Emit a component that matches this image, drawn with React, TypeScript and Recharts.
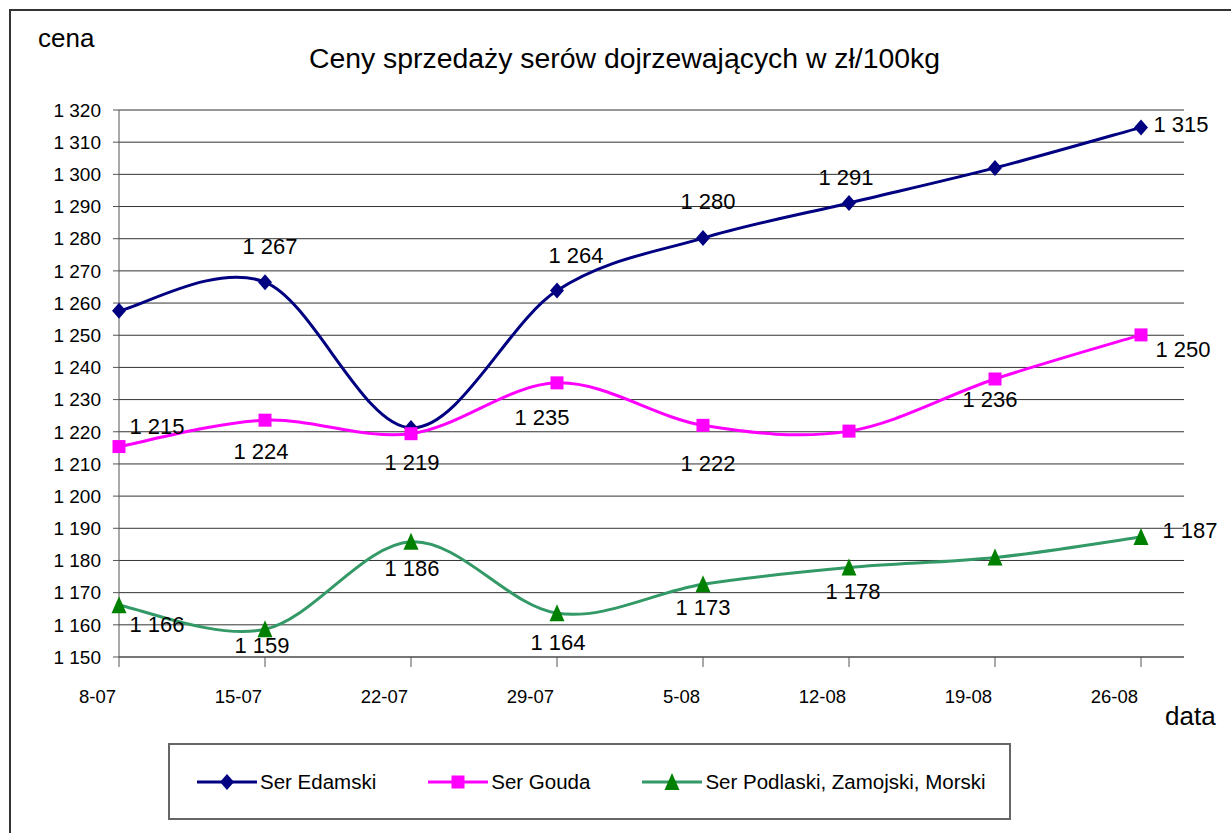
import React from 'react';
import { LineChart, Line, XAxis, YAxis, CartesianGrid, Legend, LabelList } from 'recharts';

const dates = ['8-07', '15-07', '22-07', '29-07', '5-08', '12-08', '19-08', '26-08'];
const edamski = [1257.6, 1266.5, 1221.2, 1263.9, 1280.2, 1291.1, 1302.0, 1314.6];
const gouda = [1215.4, 1223.6, 1219.4, 1235.2, 1222.0, 1220.2, 1236.4, 1250.1];
const podlaski = [1166.1, 1158.6, 1185.8, 1163.6, 1172.6, 1177.8, 1180.9, 1187.3];
const yTicks = [1150, 1160, 1170, 1180, 1190, 1200, 1210, 1220, 1230, 1240, 1250, 1260, 1270, 1280, 1290, 1300, 1310, 1320];

const SERIES_NAMES = ['Ser Edamski', 'Ser Gouda', 'Ser Podlaski, Zamojski, Morski'];
const TITLE = 'Ceny sprzedaży serów dojrzewających w zł/100kg';

// label placement (offset of label centre from the point), null = no label
const EDAM_LBL: (number[] | null)[] = [null, [5, -36], null, [19, -35], [5, -37], [-3, -25], null, [40, -3]];
const GOUDA_LBL: (number[] | null)[] = [[38, -20], [-4, 31], [1, 29], [-15, 35], [5, 38], null, [-5, 21], [42, 15]];
const POD_LBL: (number[] | null)[] = [[38, 19], [-3, 16], [1, 27], [1, 29], [0, 23], [4, 24], null, [49, -6]];

const data = dates.map((d, i) => ({ date: d, edamski: edamski[i], gouda: gouda[i], podlaski: podlaski[i] }));

const FONT = '"Liberation Sans", Arial, sans-serif';
const NAVY = '#000080';
const MAGENTA = '#FF00FF';
const GREEN_LINE = '#339966';
const GREEN = '#008000';

const fmt = (v: number) => String(Math.round(v)).replace(/\B(?=(\d{3})+(?!\d))/g, ' ');

// Excel-like smoothing (Catmull-Rom as cubic Bezier)
const excelSmooth: any = (context: any) => {
  let pts: number[][] = [];
  return {
    areaStart() {},
    areaEnd() {},
    lineStart() { pts = []; },
    lineEnd() {
      const n = pts.length;
      if (!n) return;
      context.moveTo(pts[0][0], pts[0][1]);
      for (let i = 0; i < n - 1; i++) {
        const p0 = pts[Math.max(i - 1, 0)];
        const p1 = pts[i];
        const p2 = pts[i + 1];
        const p3 = pts[Math.min(i + 2, n - 1)];
        context.bezierCurveTo(
          p1[0] + (p2[0] - p0[0]) / 6, p1[1] + (p2[1] - p0[1]) / 6,
          p2[0] - (p3[0] - p1[0]) / 6, p2[1] - (p3[1] - p1[1]) / 6,
          p2[0], p2[1]
        );
      }
    },
    point(x: number, y: number) { pts.push([+x, +y]); },
  };
};

const Diamond = ({ cx, cy, fill }: any) => (
  <path d={`M${cx},${cy - 8}L${cx + 7},${cy}L${cx},${cy + 8}L${cx - 7},${cy}Z`} fill={fill} />
);
const Square = ({ cx, cy, fill }: any) => <rect x={cx - 6.5} y={cy - 6.5} width={13} height={13} fill={fill} />;
const Triangle = ({ cx, cy, fill }: any) => (
  <path d={`M${cx},${cy - 9}L${cx + 7.5},${cy + 8}L${cx - 7.5},${cy + 8}Z`} fill={fill} />
);

const dotFor = (Shape: any, fill: string) => (props: any) => {
  const { cx, cy, index } = props;
  if (cx == null || cy == null) return <g key={index} />;
  return <Shape key={index} cx={cx} cy={cy} fill={fill} />;
};

const labelFor = (pos: (number[] | null)[]) => (props: any) => {
  const { x, y, value, index } = props;
  const p = pos[index];
  if (!p) return null;
  return (
    <text key={index} x={x + p[0]} y={y + p[1]} textAnchor="middle" dominantBaseline="central"
      fontSize={22} fontFamily={FONT} fill="#000">{fmt(value)}</text>
  );
};

const XTick = ({ x, y, payload }: any) => (
  <text x={x - 3} y={y} dy="0.71em" textAnchor="end" fontSize={18.5} fontFamily={FONT} fill="#000">{payload.value}</text>
);

const legendShapes = [
  { name: SERIES_NAMES[0], line: NAVY, Shape: Diamond, fill: NAVY },
  { name: SERIES_NAMES[1], line: MAGENTA, Shape: Square, fill: MAGENTA },
  { name: SERIES_NAMES[2], line: GREEN_LINE, Shape: Triangle, fill: GREEN },
];

const LegendBox = () => (
  <div style={{
    width: 843, height: 77, border: '2px solid #666', boxSizing: 'border-box', display: 'flex',
    alignItems: 'center', paddingLeft: 27, fontFamily: FONT, fontSize: 20.5, color: '#000', background: '#fff'
  }}>
    {legendShapes.map((it, i) => (
      <div key={i} style={{ display: 'flex', alignItems: 'center', marginRight: 52 }}>
        <svg width={60} height={24} style={{ display: 'block' }}>
          <line x1={0} y1={12} x2={60} y2={12} stroke={it.line} strokeWidth={3} />
          <it.Shape cx={30} cy={12} fill={it.fill} />
        </svg>
        <span style={{ marginLeft: 3, whiteSpace: 'nowrap' }}>{it.name}</span>
      </div>
    ))}
  </div>
);

export default function App() {
  return (
    <div style={{ position: 'absolute', left: 0, top: 0, width: 1231, height: 833, overflow: 'hidden', background: '#fff' }}>
      <div style={{ position: 'absolute', left: 9, top: 9, width: 1300, height: 900, borderLeft: '2px solid #333', borderTop: '2px solid #333' }} />
      <div style={{ position: 'absolute', left: 0, top: 0 }}>
        <LineChart width={1231} height={833} data={data} margin={{ top: 110, right: 47, bottom: 116, left: 19 }}>
          <CartesianGrid vertical={false} stroke="#333" strokeWidth={1} />
          <XAxis dataKey="date" padding={{ left: 0, right: 43 }} height={60} tickSize={10} tickMargin={23}
            stroke="#555" tickLine={{ stroke: '#555' }} tick={<XTick />} interval={0} />
          <YAxis domain={[1150, 1320]} ticks={yTicks} width={100} tickSize={6} tickMargin={12}
            stroke="#555" tickFormatter={fmt} interval={0}
            tick={{ fontSize: 19, fontFamily: FONT, fill: '#000' }} allowDataOverflow />
          <Legend layout="vertical" align="center" verticalAlign="middle"
            wrapperStyle={{ position: 'absolute', top: 743, left: 168, width: 843, height: 77 }}
            content={() => <LegendBox />} />
          <Line dataKey="edamski" name={SERIES_NAMES[0]} type={excelSmooth} stroke={NAVY} strokeWidth={3}
            dot={dotFor(Diamond, NAVY)} activeDot={false} isAnimationActive={false}>
            <LabelList dataKey="edamski" content={labelFor(EDAM_LBL)} />
          </Line>
          <Line dataKey="gouda" name={SERIES_NAMES[1]} type={excelSmooth} stroke={MAGENTA} strokeWidth={3}
            dot={dotFor(Square, MAGENTA)} activeDot={false} isAnimationActive={false}>
            <LabelList dataKey="gouda" content={labelFor(GOUDA_LBL)} />
          </Line>
          <Line dataKey="podlaski" name={SERIES_NAMES[2]} type={excelSmooth} stroke={GREEN_LINE} strokeWidth={3}
            dot={dotFor(Triangle, GREEN)} activeDot={false} isAnimationActive={false}>
            <LabelList dataKey="podlaski" content={labelFor(POD_LBL)} />
          </Line>
        </LineChart>
      </div>
      <svg width={1231} height={833} style={{ position: 'absolute', left: 0, top: 0, pointerEvents: 'none' }}>
        <text x={38} y={47} fontSize={26} fontFamily={FONT} fill="#000">cena</text>
        <text x={624.5} y={68} textAnchor="middle" fontSize={28.4} fontFamily={FONT} fill="#000">{TITLE}</text>
        <text x={1165} y={725} fontSize={26} fontFamily={FONT} fill="#000">data</text>
      </svg>
    </div>
  );
}
